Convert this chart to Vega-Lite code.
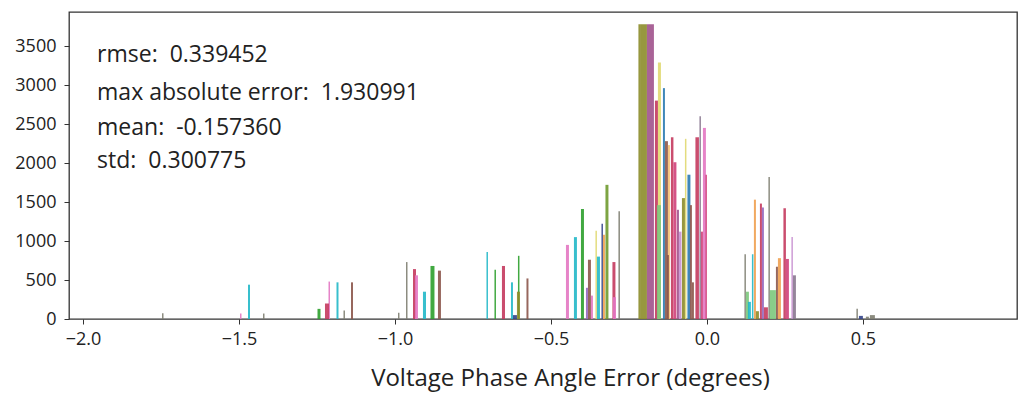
{
  "$schema": "https://vega.github.io/schema/vega-lite/v6.json",
  "width": 948,
  "height": 307,
  "autosize": "none",
  "padding": {"left": 69, "top": 12, "right": 9, "bottom": 80},
  "background": "white",
  "config": {
    "view": {"stroke": "#333333", "strokeWidth": 1.3},
    "font": "Open Sans"
  },
  "datasets": {
    "bars": [
      {"x0": -1.7468, "x1": -1.7420, "n": 75, "c": "gray"},
      {"x0": -1.4968, "x1": -1.4920, "n": 70, "c": "pink"},
      {"x0": -1.4712, "x1": -1.4647, "n": 440, "c": "teal"},
      {"x0": -1.4231, "x1": -1.4183, "n": 70, "c": "gray"},
      {"x0": -1.2484, "x1": -1.2388, "n": 130, "c": "green"},
      {"x0": -1.2131, "x1": -1.2083, "n": 480, "c": "pink"},
      {"x0": -1.2244, "x1": -1.2115, "n": 200, "c": "crimson"},
      {"x0": -1.1875, "x1": -1.1811, "n": 470, "c": "teal"},
      {"x0": -1.1651, "x1": -1.1603, "n": 110, "c": "gray"},
      {"x0": -1.1410, "x1": -1.1346, "n": 470, "c": "brown"},
      {"x0": -0.9904, "x1": -0.9856, "n": 80, "c": "gray"},
      {"x0": -0.9647, "x1": -0.9599, "n": 730, "c": "gray"},
      {"x0": -0.9423, "x1": -0.9327, "n": 640, "c": "crimson"},
      {"x0": -0.9359, "x1": -0.9263, "n": 560, "c": "pink"},
      {"x0": -0.9103, "x1": -0.9006, "n": 350, "c": "teal"},
      {"x0": -0.8862, "x1": -0.8734, "n": 680, "c": "green"},
      {"x0": -0.8622, "x1": -0.8526, "n": 620, "c": "brown"},
      {"x0": -0.7067, "x1": -0.7019, "n": 860, "c": "teal"},
      {"x0": -0.6811, "x1": -0.6763, "n": 630, "c": "green"},
      {"x0": -0.6571, "x1": -0.6474, "n": 680, "c": "crimson"},
      {"x0": -0.6282, "x1": -0.6218, "n": 470, "c": "teal"},
      {"x0": -0.6058, "x1": -0.6010, "n": 810, "c": "green"},
      {"x0": -0.6090, "x1": -0.5994, "n": 350, "c": "olive"},
      {"x0": -0.6218, "x1": -0.6090, "n": 50, "c": "navy"},
      {"x0": -0.5785, "x1": -0.5721, "n": 520, "c": "brown"},
      {"x0": -0.4519, "x1": -0.4423, "n": 950, "c": "pink"},
      {"x0": -0.4263, "x1": -0.4167, "n": 1050, "c": "teal"},
      {"x0": -0.4038, "x1": -0.3942, "n": 1410, "c": "green"},
      {"x0": -0.3814, "x1": -0.3718, "n": 760, "c": "brown"},
      {"x0": -0.3878, "x1": -0.3814, "n": 400, "c": "purple"},
      {"x0": -0.3718, "x1": -0.3654, "n": 300, "c": "pink"},
      {"x0": -0.3253, "x1": -0.3157, "n": 1720, "c": "olivegreen"},
      {"x0": -0.3381, "x1": -0.3333, "n": 1220, "c": "navy"},
      {"x0": -0.3574, "x1": -0.3526, "n": 1130, "c": "yellow"},
      {"x0": -0.3333, "x1": -0.3269, "n": 1080, "c": "orange"},
      {"x0": -0.3526, "x1": -0.3429, "n": 800, "c": "teal"},
      {"x0": -0.2837, "x1": -0.2788, "n": 1380, "c": "gray"},
      {"x0": -0.3029, "x1": -0.2933, "n": 730, "c": "crimson"},
      {"x0": -0.3013, "x1": -0.2917, "n": 280, "c": "pink"},
      {"x0": -0.2196, "x1": -0.2115, "n": 3780, "c": "olive"},
      {"x0": -0.2115, "x1": -0.1923, "n": 3780, "c": "olive"},
      {"x0": -0.1923, "x1": -0.1699, "n": 3780, "c": "mauve"},
      {"x0": -0.1571, "x1": -0.1474, "n": 3290, "c": "yellow"},
      {"x0": -0.1410, "x1": -0.1346, "n": 2960, "c": "blue"},
      {"x0": -0.1667, "x1": -0.1571, "n": 2800, "c": "crimson"},
      {"x0": -0.0240, "x1": -0.0192, "n": 2600, "c": "graypurple"},
      {"x0": -0.0128, "x1": -0.0032, "n": 2450, "c": "pink"},
      {"x0": -0.1154, "x1": -0.1074, "n": 2330, "c": "crimson"},
      {"x0": -0.0369, "x1": -0.0256, "n": 2330, "c": "crimson"},
      {"x0": -0.0705, "x1": -0.0657, "n": 2310, "c": "yellow"},
      {"x0": -0.1346, "x1": -0.1250, "n": 2280, "c": "brown"},
      {"x0": -0.1250, "x1": -0.1186, "n": 2230, "c": "lightorange"},
      {"x0": -0.1074, "x1": -0.0978, "n": 2010, "c": "magenta"},
      {"x0": -0.0625, "x1": -0.0529, "n": 1850, "c": "blue"},
      {"x0": -0.0048, "x1": 0.0, "n": 1850, "c": "magenta"},
      {"x0": -0.0801, "x1": -0.0705, "n": 1550, "c": "olive"},
      {"x0": -0.1603, "x1": -0.1474, "n": 1460, "c": "lightgreen"},
      {"x0": -0.0545, "x1": -0.0481, "n": 1460, "c": "brown"},
      {"x0": -0.0962, "x1": -0.0897, "n": 1400, "c": "mauve"},
      {"x0": -0.0897, "x1": -0.0817, "n": 1120, "c": "lavender"},
      {"x0": -0.0192, "x1": -0.0128, "n": 1120, "c": "magenta"},
      {"x0": -0.1282, "x1": -0.1218, "n": 820, "c": "brown"},
      {"x0": -0.0481, "x1": -0.0417, "n": 470, "c": "brown"},
      {"x0": 0.1971, "x1": 0.2019, "n": 1820, "c": "gray"},
      {"x0": 0.1506, "x1": 0.1571, "n": 1530, "c": "orange"},
      {"x0": 0.1699, "x1": 0.1763, "n": 1480, "c": "crimson"},
      {"x0": 0.1763, "x1": 0.1827, "n": 1430, "c": "purple"},
      {"x0": 0.2452, "x1": 0.2532, "n": 1420, "c": "crimson"},
      {"x0": 0.2708, "x1": 0.2756, "n": 1050, "c": "lavender"},
      {"x0": 0.1202, "x1": 0.1250, "n": 830, "c": "gray"},
      {"x0": 0.1442, "x1": 0.1490, "n": 830, "c": "teal"},
      {"x0": 0.2276, "x1": 0.2372, "n": 780, "c": "orange"},
      {"x0": 0.2532, "x1": 0.2628, "n": 770, "c": "magenta"},
      {"x0": 0.2212, "x1": 0.2276, "n": 670, "c": "brown"},
      {"x0": 0.2756, "x1": 0.2853, "n": 560, "c": "graypurple"},
      {"x0": 0.2019, "x1": 0.2212, "n": 370, "c": "lightgreen"},
      {"x0": 0.1250, "x1": 0.1346, "n": 350, "c": "lightgreen"},
      {"x0": 0.1314, "x1": 0.1410, "n": 220, "c": "teal"},
      {"x0": 0.1827, "x1": 0.1955, "n": 150, "c": "crimson"},
      {"x0": 0.1571, "x1": 0.1667, "n": 100, "c": "olive"},
      {"x0": 0.4792, "x1": 0.4840, "n": 130, "c": "gray"},
      {"x0": 0.4872, "x1": 0.5000, "n": 40, "c": "navy"},
      {"x0": 0.5096, "x1": 0.5192, "n": 30, "c": "gray"},
      {"x0": 0.5224, "x1": 0.5385, "n": 50, "c": "gray"}
    ],
    "stats": [
      {"x": -1.955, "y": 3390, "t": "rmse:\u00a0 0.339452"},
      {"x": -1.955, "y": 2900, "t": "max absolute error:\u00a0 1.930991"},
      {"x": -1.955, "y": 2450, "t": "mean:\u00a0 -0.157360"},
      {"x": -1.955, "y": 2030, "t": "std:\u00a0 0.300775"}
    ]
  },
  "layer": [
    {
      "data": {"name": "bars"},
      "mark": {"type": "bar", "opacity": 0.9},
      "encoding": {
        "x": {
          "field": "x0", "type": "quantitative",
          "scale": {"domain": [-2.045, 0.994], "nice": false, "zero": false},
          "axis": {
            "values": [-2, -1.5, -1, -0.5, 0, 0.5],
            "format": ".1f",
            "grid": false,
            "title": "Voltage Phase Angle Error (degrees)",
            "titleFont": "Open Sans", "titleFontSize": 24, "titleFontWeight": "normal",
            "titleColor": "#222222", "titlePadding": 18, "titleX": 501,
            "labelFont": "Open Sans", "labelFontSize": 18, "labelColor": "#222222",
            "labelPadding": 6,
            "tickSize": 5, "tickColor": "#333333", "domain": false
          }
        },
        "x2": {"field": "x1"},
        "y": {
          "field": "n", "type": "quantitative",
          "scale": {"domain": [0, 3936], "nice": false},
          "axis": {
            "values": [0, 500, 1000, 1500, 2000, 2500, 3000, 3500],
            "format": "d",
            "grid": false,
            "title": null,
            "labelFont": "Open Sans", "labelFontSize": 18, "labelColor": "#222222",
            "labelPadding": 8,
            "tickSize": 5, "tickColor": "#333333", "domain": false
          }
        },
        "y2": {"datum": 0},
        "color": {
          "field": "c", "type": "nominal", "legend": null,
          "scale": {
            "domain": ["gray", "pink", "teal", "green", "crimson", "brown", "olive", "mauve", "yellow", "orange", "navy", "purple", "lightgreen", "lightorange", "magenta", "lavender", "olivegreen", "blue", "graypurple"],
            "range": ["#7f7f72", "#e377c2", "#22b8c8", "#2ca02c", "#c43a5e", "#8c564b", "#8c8c2a", "#a0528c", "#e0d870", "#f0a050", "#33448a", "#9467bd", "#7cc87c", "#f5c070", "#d0407a", "#c890d0", "#6f9a2f", "#2a7ab0", "#8a7890"]
          }
        }
      }
    },
    {
      "data": {"name": "stats"},
      "mark": {"type": "text", "align": "left", "baseline": "middle", "font": "Open Sans", "fontSize": 23, "color": "#222222"},
      "encoding": {
        "x": {"field": "x", "type": "quantitative"},
        "y": {"field": "y", "type": "quantitative"},
        "text": {"field": "t"}
      }
    }
  ]
}
